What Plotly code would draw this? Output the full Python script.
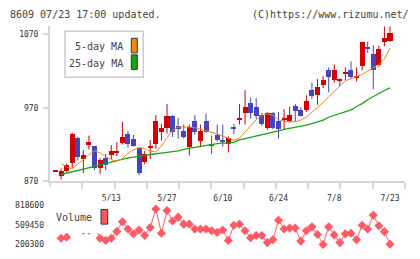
import plotly.graph_objects as go

W, H = 420, 259

dates = ["4/19", "4/22", "4/23", "4/24", "4/25", "4/26", "5/7", "5/8", "5/9", "5/10",
         "5/13", "5/14", "5/15", "5/16", "5/17", "5/20", "5/21", "5/22", "5/23", "5/24",
         "5/27", "5/28", "5/29", "5/30", "5/31", "6/3", "6/4", "6/5", "6/6", "6/7",
         "6/10", "6/11", "6/12", "6/13", "6/14", "6/17", "6/18", "6/19", "6/20", "6/21",
         "6/24", "6/25", "6/26", "6/27", "6/28", "7/1", "7/2", "7/3", "7/4", "7/5",
         "7/8", "7/9", "7/10", "7/11", "7/12", "7/16", "7/17", "7/18", "7/19", "7/22",
         "7/23"]

open_ = [883, 876, 883, 894, 928, 900, 919, 918, 888, 901, 905, 909, 921, 934, 927, 914,
         895, 914, 920, 937, 942, 958, 945, 938, 916, 951, 924, 952, 920, 932, 926, 920,
         943, 954, 963, 976, 971, 959, 942, 963, 951, 954, 951, 972, 966, 967, 994, 987,
         1001, 1021, 1007, 1006, 1017, 1021, 1010, 1027, 1052, 1043, 1028, 1059, 1061]
high = [883, 887, 894, 936, 930, 912, 932, 918, 901, 907, 919, 923, 951, 938, 933, 915,
        911, 926, 960, 948, 975, 960, 956, 947, 947, 960, 947, 962, 932, 947, 947, 931,
        948, 975, 994, 984, 983, 963, 964, 964, 964, 968, 971, 975, 971, 987, 1004, 1009,
        1013, 1025, 1029, 1010, 1025, 1033, 1025, 1059, 1060, 1055, 1055, 1081, 1081]
low = [883, 872, 882, 888, 898, 881, 913, 885, 880, 885, 900, 904, 920, 916, 917, 878,
       893, 900, 914, 925, 935, 930, 928, 928, 905, 933, 916, 936, 907, 924, 917, 909,
       934, 947, 947, 955, 955, 945, 940, 941, 928, 940, 950, 951, 958, 964, 982, 974,
       997, 991, 1004, 999, 1007, 1009, 1006, 1021, 1045, 995, 1026, 1054, 1060]
close = [883, 883, 891, 934, 903, 905, 923, 887, 898, 892, 910, 909, 930, 920, 918, 880,
         907, 918, 952, 942, 958, 936, 941, 930, 943, 936, 938, 937, 917, 925, 924, 928,
         941, 956, 971, 962, 958, 948, 963, 942, 940, 955, 959, 965, 958, 979, 986, 998,
         1007, 1012, 1021, 1009, 1018, 1011, 1013, 1059, 1050, 1021, 1049, 1065, 1072]

ma5 = [None, 893.9, 889, 887, 892.6, 899.2, 905.9, 911.2, 908.5, 903.2, 899.2, 897.2, 900.5,
       907.8, 912.5, 915.8, 914, 910.5, 909.8, 917.8, 929.1, 939, 943.7, 944, 943.7, 942.6,
       940.8, 939, 936.8, 934.4, 931.1, 927.8, 925.6, 928.4, 937.1, 945.1, 953.7, 959.7,
       961.6, 959.7, 953.7, 951.5, 950.6, 951, 953, 957, 963.6, 969.6, 977.2, 984.9, 992.2,
       1000.1, 1006.8, 1009.4, 1012.1, 1015.4, 1020.1, 1024.7, 1028.7, 1036.7, 1051.5]
ma25 = [None, 878.9, 880.6, 882.6, 884.6, 886.2, 887.8, 889.9, 891.9, 893.9, 895.2, 897.2,
        899.9, 901.5, 902.5, 903.9, 905.2, 905.9, 907.2, 908.1, 909.2, 909.8, 911.2, 913.2,
        914.1, 915.8, 917.4, 918.7, 920.5, 921.1, 921.8, 921.8, 923.1, 926.2, 927.8, 929.5,
        931.5, 933.1, 934.4, 935.7, 938.4, 940.4, 941.7, 943, 945, 946.4, 948.4, 950.3, 953,
        957, 959.6, 961.6, 965, 966.9, 971.6, 975.6, 980.9, 985.5, 989.5, 993.5, 997.1]

volume = [None, 301000, 316000, 818600, 520000, 426000, 426000, 495000, 301000, 266000,
          301000, 408000, 561000, 445000, 369000, 430000, 343000, 470000, 760000, 378000,
          736000, 572000, 633000, 522000, 522000, 445000, 445000, 445000, 419000, 393000,
          430000, 266000, 506000, 522000, 419000, 307000, 343000, 343000, 231000, 277000,
          583000, 445000, 460000, 460000, 255000, 419000, 480000, 358000, 200300, 480000,
          353000, 231000, 369000, 378000, 277000, 506000, 445000, 664000, 496000, 404000,
          205000]

price_ticks = [870, 970, 1070]
vol_ticks = [200300, 509450, 818600]
date_tick_idx = [10, 20, 30, 40, 50, 60]

UP = "#d20000"
DOWN = "#4545bf"
ORANGE = "#f08a10"
GREEN = "#14a814"
VOLC = "#ff5a64"
AXC = "#d6d6d6"
TXT = "#333333"
FONT = "DejaVu Sans Mono"

n = len(dates)
xs = list(range(n))


def px(x):
    return x / W


def py(y):
    return 1 - y / H


body_base, body_h, body_col = [], [], []
wx_up, wy_up, wx_dn, wy_dn = [], [], [], []
for i in range(n):
    o, c = open_[i], close[i]
    up = c >= o
    lo, hi = min(o, c), max(o, c)
    h = max(hi - lo, 1.5)
    body_base.append(lo if hi - lo >= 1.5 else (lo + hi) / 2 - 0.75)
    body_h.append(h)
    body_col.append(UP if up else DOWN)
    if up:
        wx_up += [i, i, None]
        wy_up += [low[i], high[i], None]
    else:
        wx_dn += [i, i, None]
        wy_dn += [low[i], high[i], None]

fig = go.Figure()
fig.add_trace(go.Scatter(x=wx_up, y=wy_up, mode="lines", line=dict(color=UP, width=1),
                         hoverinfo="skip", showlegend=False))
fig.add_trace(go.Scatter(x=wx_dn, y=wy_dn, mode="lines", line=dict(color=DOWN, width=1),
                         hoverinfo="skip", showlegend=False))
fig.add_trace(go.Bar(x=xs, y=body_h, base=body_base, width=0.9,
                     marker=dict(color=body_col, line=dict(width=0)), showlegend=False))
fig.add_trace(go.Scatter(x=xs, y=ma25, mode="lines", line=dict(color=GREEN, width=1.3),
                         showlegend=False))
fig.add_trace(go.Scatter(x=xs, y=ma5, mode="lines", line=dict(color=ORANGE, width=1),
                         showlegend=False))
fig.add_trace(go.Scatter(x=xs, y=volume, mode="lines+markers", xaxis="x2", yaxis="y2",
                         line=dict(color=VOLC, width=1),
                         marker=dict(symbol="diamond", size=7, color=VOLC),
                         connectgaps=False, showlegend=False, cliponaxis=False))

x_left, x_right = 50, 405
x0_px, x_step = 55.5, 5.575
xr = [(x_left - x0_px) / x_step, (x_right - x0_px) / x_step]
main_top, main_bot = 25, 184
units_per_px = 100 / 75.35
yr = [870, 870 + (main_bot - main_top) * units_per_px]
xticks = [xr[0] + k * (xr[1] - xr[0]) / 11 for k in range(1, 12)]

v_top, v_bot = 207, 255
v_per_px = (818600 - 200300) / (249.3 - 209)
vr = [200300 - (v_bot - 249.3) * v_per_px, 818600 + (209 - v_top) * v_per_px]

fig.update_layout(
    width=W, height=H, margin=dict(l=0, r=0, t=0, b=0),
    paper_bgcolor="white", plot_bgcolor="white", bargap=0,
    font=dict(family=FONT, size=8, color=TXT),
    xaxis=dict(domain=[px(x_left), px(x_right)], range=xr, anchor="y",
               showgrid=False, zeroline=False, showline=True, linecolor=AXC, linewidth=2,
               ticks="outside", ticklen=6, tickwidth=2, tickcolor=AXC, tickmode="array",
               tickvals=xticks, showticklabels=False),
    yaxis=dict(domain=[py(main_bot), py(main_top)], range=yr, anchor="x",
               showgrid=False, zeroline=False, showline=True, linecolor=AXC, linewidth=2,
               ticks="outside", ticklen=5, tickwidth=2, tickcolor=AXC, tickmode="array",
               tickvals=price_ticks, ticktext=[str(t) for t in price_ticks],
               ticklabelstandoff=3,
               tickfont=dict(size=8, family=FONT, color=TXT)),
    xaxis2=dict(domain=[px(x_left), px(x_right)], range=xr, anchor="y2", side="top",
                showgrid=False, zeroline=False, showline=False, ticks="",
                tickmode="array", tickvals=date_tick_idx,
                ticktext=[dates[i] for i in date_tick_idx],
                tickfont=dict(size=8, family=FONT, color=TXT)),
    yaxis2=dict(domain=[py(v_bot), py(v_top)], range=vr, anchor="x2",
                showgrid=False, zeroline=False, showline=False, ticks="",
                tickmode="array", tickvals=vol_ticks, ticktext=[str(t) for t in vol_ticks],
                ticklabelstandoff=5,
                tickfont=dict(size=8, family=FONT, color=TXT)),
)

shapes = [
    dict(type="line", xref="paper", yref="paper", x0=px(50), x1=px(50), y0=py(184), y1=py(190),
         line=dict(color=AXC, width=2)),
    dict(type="rect", xref="paper", yref="paper", x0=px(65), x1=px(143.3), y0=py(77.3), y1=py(30),
         line=dict(color="#cccccc", width=1.5), fillcolor="white", layer="above"),
    dict(type="rect", xref="paper", yref="paper", x0=px(131.3), x1=px(137.3), y0=py(52.3), y1=py(37.3),
         line=dict(color="#333333", width=1), fillcolor=ORANGE, layer="above"),
    dict(type="rect", xref="paper", yref="paper", x0=px(131.3), x1=px(137.3), y0=py(69.3), y1=py(54.3),
         line=dict(color="#333333", width=1), fillcolor=GREEN, layer="above"),
    dict(type="rect", xref="paper", yref="paper", x0=px(50), x1=px(112), y0=py(237.3), y1=py(204),
         line=dict(width=0), fillcolor="white", layer="above"),
    dict(type="rect", xref="paper", yref="paper", x0=px(101), x1=px(107.7), y0=py(228.3), y1=py(213.3),
         line=dict(color="#333333", width=1), fillcolor=VOLC, layer="above"),
]
fig.update_layout(shapes=shapes)

ann = [
    dict(text="8609 07/23 17:00 updated.", x=px(8), y=py(12.7), xanchor="left", yanchor="middle",
         font=dict(size=10, family=FONT, color="#444444")),
    dict(text="(C)https://www.rizumu.net/", x=px(410.5), y=py(12.7), xanchor="right", yanchor="middle",
         font=dict(size=10, family=FONT, color="#444444")),
    dict(text="5-day MA", x=px(125), y=py(46), xanchor="right", yanchor="middle",
         font=dict(size=10, family=FONT, color="#444444")),
    dict(text="25-day MA", x=px(125), y=py(63.3), xanchor="right", yanchor="middle",
         font=dict(size=10, family=FONT, color="#444444")),
    dict(text="Volume", x=px(94), y=py(221.5), xanchor="right", yanchor="middle",
         font=dict(size=10, family=FONT, color="#444444")),
]
for a in ann:
    a.update(xref="paper", yref="paper", showarrow=False)
fig.update_layout(annotations=ann)

fig.write_html("out.html")
